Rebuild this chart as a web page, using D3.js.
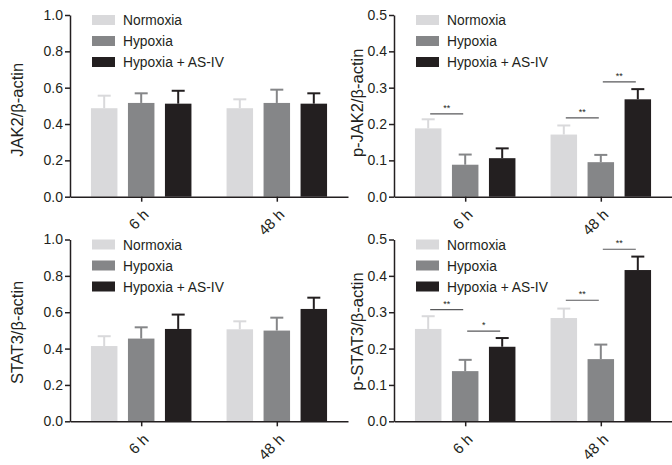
<!DOCTYPE html>
<html>
<head>
<meta charset="utf-8">
<script src="https://cdn.jsdelivr.net/npm/d3@7"></script>
<style>
  html, body { margin: 0; padding: 0; background: #fff; }
  svg { display: block; }
  text { font-family: "Liberation Sans", Arial, Helvetica, sans-serif; fill: #231f20; }
</style>
</head>
<body>
<svg id="chart" width="672" height="465"></svg>
<script>
// ---------------- DATA ----------------
const categories = ["6 h", "48 h"];
const series = ["Normoxia", "Hypoxia", "Hypoxia + AS-IV"];
const seriesColors = ["#d9d9db", "#858688", "#231f20"];

// mean values, [group][series]
const jak2Mean   = [[0.487, 0.516, 0.512], [0.487, 0.516, 0.512]];
const jak2Err    = [[0.069, 0.053, 0.071], [0.049, 0.073, 0.057]];
const pJak2Mean  = [[0.188, 0.088, 0.106], [0.171, 0.095, 0.268]];
const pJak2Err   = [[0.025, 0.028, 0.027], [0.025, 0.020, 0.028]];
const stat3Mean  = [[0.414, 0.455, 0.508], [0.506, 0.499, 0.618]];
const stat3Err   = [[0.054, 0.062, 0.079], [0.044, 0.071, 0.062]];
const pStat3Mean = [[0.254, 0.138, 0.205], [0.284, 0.171, 0.416]];
const pStat3Err  = [[0.035, 0.031, 0.024], [0.026, 0.040, 0.037]];

const jak2Ticks  = [0, 0.2, 0.4, 0.6, 0.8, 1.0];
const pJak2Ticks = [0, 0.1, 0.2, 0.3, 0.4, 0.5];

// significance brackets: group index, from series, to series, y value, label
const pJak2Sig  = [
  {g: 0, a: 0, b: 1, y: 0.228, label: "**"},
  {g: 1, a: 0, b: 1, y: 0.217, label: "**"},
  {g: 1, a: 1, b: 2, y: 0.316, label: "**"}
];
const pStat3Sig = [
  {g: 0, a: 0, b: 1, y: 0.307, label: "**"},
  {g: 0, a: 1, b: 2, y: 0.248, label: "*"},
  {g: 1, a: 0, b: 1, y: 0.333, label: "**"},
  {g: 1, a: 1, b: 2, y: 0.473, label: "**"}
];

// ---------------- LAYOUT ----------------
const panels = [
  {title: "JAK2/β-actin",    mean: jak2Mean,   err: jak2Err,   ticks: jak2Ticks,  max: 1.0, sig: [],
   x0: 70,  x1: 348, yTop: 15,    yBot: 196.7, titleX: 23,  titleDy: 4},
  {title: "p-JAK2/β-actin",  mean: pJak2Mean,  err: pJak2Err,  ticks: pJak2Ticks, max: 0.5, sig: pJak2Sig,
   x0: 394, x1: 672, yTop: 15,    yBot: 196.7, titleX: 363, titleDy: -3},
  {title: "STAT3/β-actin",   mean: stat3Mean,  err: stat3Err,  ticks: jak2Ticks,  max: 1.0, sig: [],
   x0: 70,  x1: 348, yTop: 239.5, yBot: 421.3, titleX: 23,  titleDy: 2},
  {title: "p-STAT3/β-actin", mean: pStat3Mean, err: pStat3Err, ticks: pJak2Ticks, max: 0.5, sig: pStat3Sig,
   x0: 394, x1: 672, yTop: 239.5, yBot: 421.3, titleX: 363, titleDy: 1}
];

const svg = d3.select("#chart");
const axisColor = "#231f20";
const fontFam = "'Liberation Sans', Arial, sans-serif";

panels.forEach(p => {
  const g = svg.append("g");
  const x = d3.scalePoint().domain(categories).range([p.x0, p.x1]).padding(0.525);
  const xs = d3.scaleBand().domain(series).range([-50.25, 50.25]).paddingInner(0.284).paddingOuter(0);
  const y = d3.scaleLinear().domain([0, p.max]).range([p.yBot, p.yTop]);

  // bars
  categories.forEach((c, gi) => {
    series.forEach((s, si) => {
      const bx = x(c) + xs(s);
      const v = p.mean[gi][si];
      const e = p.err[gi][si];
      g.append("rect")
        .attr("x", bx).attr("y", y(v))
        .attr("width", xs.bandwidth()).attr("height", y(0) - y(v))
        .attr("fill", seriesColors[si]);
      const cx = bx + xs.bandwidth() / 2;
      g.append("line")
        .attr("x1", cx).attr("x2", cx).attr("y1", y(v)).attr("y2", y(v + e))
        .attr("stroke", seriesColors[si]).attr("stroke-width", 2);
      g.append("line")
        .attr("x1", cx - 6.5).attr("x2", cx + 6.5).attr("y1", y(v + e)).attr("y2", y(v + e))
        .attr("stroke", seriesColors[si]).attr("stroke-width", 2);
    });
  });

  // significance
  p.sig.forEach(s => {
    const c = categories[s.g];
    const xa = x(c) + xs(series[s.a]) + xs.bandwidth() / 2 + 2;
    const xb = x(c) + xs(series[s.b]) + xs.bandwidth() / 2 - 2;
    g.append("line")
      .attr("x1", xa).attr("x2", xb).attr("y1", y(s.y)).attr("y2", y(s.y))
      .attr("stroke", "#58595b").attr("stroke-width", 1.1);
    g.append("text")
      .attr("x", (xa + xb) / 2).attr("y", y(s.y) - 3)
      .attr("text-anchor", "middle")
      .style("font-size", "9px")
      .text(s.label);
  });

  // y axis
  const ya = g.append("g").attr("transform", `translate(${p.x0},0)`)
    .call(d3.axisLeft(y).tickValues(p.ticks).tickFormat(d3.format(".1f")).tickSize(5).tickSizeOuter(0).tickPadding(2));
  ya.select(".domain").attr("stroke", axisColor).attr("stroke-width", 1.5);
  ya.selectAll(".tick line").attr("stroke", axisColor).attr("stroke-width", 1.5);
  ya.selectAll(".tick text").style("font-size", "14px").attr("fill", axisColor)
    .style("font-family", fontFam);

  // x axis
  const xa = g.append("g").attr("transform", `translate(0,${p.yBot})`)
    .call(d3.axisBottom(x).tickSize(5).tickSizeOuter(0));
  xa.select(".domain").attr("stroke", axisColor).attr("stroke-width", 1.5);
  xa.selectAll(".tick line").attr("stroke", axisColor).attr("stroke-width", 1.5);
  xa.selectAll(".tick text")
    .style("font-size", "15px").attr("fill", axisColor)
    .style("font-family", fontFam)
    .attr("text-anchor", "end")
    .attr("dy", null).attr("y", null)
    .attr("transform", "translate(8,19) rotate(-45)");

  // y title
  g.append("text")
    .attr("transform", `translate(${p.titleX},${(p.yTop + p.yBot) / 2 + p.titleDy}) rotate(-90)`)
    .attr("text-anchor", "middle")
    .style("font-size", "16.5px")
    .text(p.title);

  // legend
  const lg = g.append("g").attr("transform", `translate(${p.x0 + 22},${p.yTop})`);
  series.forEach((s, si) => {
    lg.append("rect").attr("x", 0).attr("y", si * 21).attr("width", 23).attr("height", 10)
      .attr("fill", seriesColors[si]);
    lg.append("text").attr("x", 31).attr("y", si * 21 + 10)
      .style("font-size", "13.8px").text(s);
  });
});
</script>
</body>
</html>
